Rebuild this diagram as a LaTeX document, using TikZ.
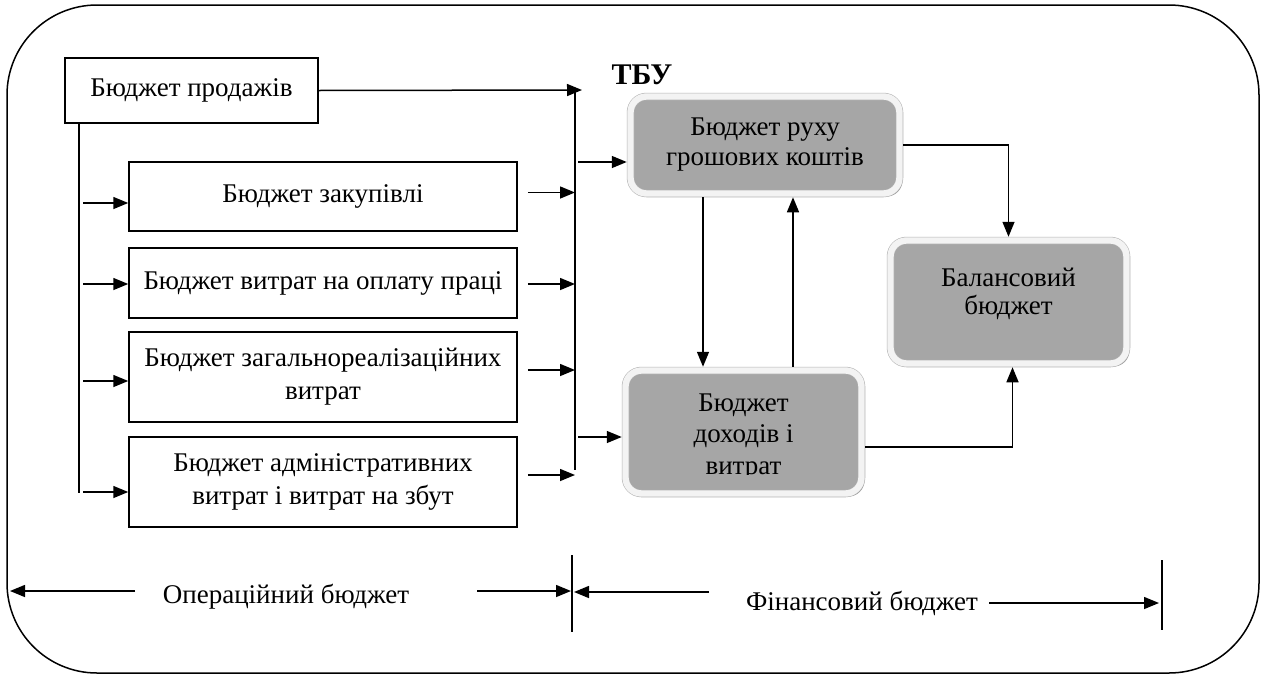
\documentclass[tikz,border=0pt]{standalone}
\usepackage{fontspec}
\setmainfont{Liberation Serif}
\usetikzlibrary{arrows.meta,shadows}
\definecolor{boxgray}{HTML}{A6A6A6}
\definecolor{rimgray}{HTML}{F3F3F3}
\begin{document}
\begin{tikzpicture}[x=1pt,y=-1pt,
  line width=1.5pt,
  arr/.style={-{Triangle[length=15pt,width=12pt]}},
  plainbox/.style={draw, line width=1.5pt, inner sep=0pt, align=center,
    font=\fontsize{27}{33}\selectfont},
  graybox/.style={fill=boxgray, draw=black!30, double=rimgray, double distance=6.4pt,
    line width=0.55pt, rounded corners=16pt, outer sep=3.75pt,
    inner sep=0pt, align=center, font=\fontsize{27}{30}\selectfont,
    drop shadow={shadow xshift=3pt, shadow yshift=-3pt, fill=black!40, opacity=1}},
  lbl/.style={font=\fontsize{27}{30}\selectfont, inner sep=0pt}]
\useasboundingbox (0,0) rectangle (1267,675);

% outer frame
\draw[rounded corners=90pt] (7,5) rectangle (1259,673);

% operational budgets
\node[plainbox, minimum width=253pt, minimum height=65pt] (prod) at (191.5,90.5) {Бюджет продажів};
\node[plainbox, minimum width=388pt, minimum height=69pt] (zak) at (323,196.5) {Бюджет закупівлі};
\node[plainbox, minimum width=388pt, minimum height=70pt] (opl) at (323,283) {Бюджет витрат на оплату праці};
\node[plainbox, minimum width=388pt, minimum height=90pt] (zag) at (323,377) {Бюджет загальнореалізаційних\\витрат};
\node[plainbox, minimum width=388pt, minimum height=90pt] (adm) at (323,482) {Бюджет адміністративних\\витрат і витрат на збут};

% financial budgets
\node[graybox, minimum width=269pt, minimum height=97pt] (rux) at (765,145) {Бюджет руху\\грошових коштів};
\node[graybox, minimum width=236pt, minimum height=123pt] (doh) at (743.5,432) {};
\node[graybox, minimum width=236pt, minimum height=123pt] (bal) at (1008.5,302) {};
\node[lbl, align=center, font=\fontsize{27}{28}\selectfont] (baltext) at (1008.5,294) {Балансовий\\бюджет};
\begin{scope}
  \clip (600,360) rectangle (880,474);
  \node[lbl, align=center, font=\fontsize{27}{31.5}\selectfont] (dohtext) at (743.5,437) {Бюджет\\доходів і\\витрат};
\end{scope}

\node[font=\bfseries\fontsize{30}{32}\selectfont, inner sep=0pt] (tbu) at (642,75) {ТБУ};

% collecting lines
\coordinate (lx) at (79,0);
\coordinate (la) at (83,0);
\coordinate (mx) at (575,0);
\coordinate (mt) at (575,90);
\coordinate (mb) at (575,470);

\draw (prod.south -| lx) -- (79,493);
\draw[arr] ([yshift=-6.5pt]zak.west -| la) -- ([yshift=-6.5pt]zak.west);
\draw[arr] ([yshift=-1pt]opl.west -| la) -- ([yshift=-1pt]opl.west);
\draw[arr] ([yshift=-4pt]zag.west -| la) -- ([yshift=-4pt]zag.west);
\draw[arr] ([yshift=-10pt]adm.west -| la) -- ([yshift=-10pt]adm.west);

\draw (mt) -- (mb);
\draw[arr] (prod.east) -- ([xshift=7pt]mt);
\draw[arr] ([xshift=10pt,yshift=4pt]zak.east) -- ([yshift=4pt]zak.east -| mx);
\draw[arr] ([xshift=10pt,yshift=-1pt]opl.east) -- ([yshift=-1pt]opl.east -| mx);
\draw[arr] ([xshift=10pt,yshift=7pt]zag.east) -- ([yshift=7pt]zag.east -| mx);
\draw[arr] ([xshift=10pt,yshift=7pt]adm.east) -- ([yshift=7pt]adm.east -| mx);

\draw[arr] ([xshift=3pt,yshift=-17pt]rux.west -| mx) -- ([yshift=-17pt]rux.west);
\draw[arr] ([xshift=3pt,yshift=-5pt]doh.west -| mx) -- ([yshift=-5pt]doh.west);

% links between financial budgets
\coordinate (d1) at (703,0);
\coordinate (d2) at (793,0);
\draw[arr] (rux.south -| d1) -- (doh.north -| d1);
\draw[arr] (doh.north -| d2) -- (rux.south -| d2);
\draw[arr] (rux.east) -| (bal.north);
\draw[arr] ([yshift=-15pt]doh.east) -| ([xshift=4pt]bal.south);

% budget ranges along the bottom
\coordinate (opl1) at (135,591);
\coordinate (opl0) at (10,591);
\coordinate (opr1) at (477,591);
\coordinate (opr0) at (571,591);
\coordinate (sepT) at (572,555);
\coordinate (sepB) at (572,632);
\coordinate (fl1) at (709,592);
\coordinate (fl0) at (574,592);
\coordinate (fr1) at (989,603);
\coordinate (fr0) at (1159,603);
\coordinate (endT) at (1162,560);
\coordinate (endB) at (1162,630);
\node[lbl] (optext) at (286,597) {Операційний бюджет};
\node[lbl] (fintext) at (862,603) {Фінансовий бюджет};
\draw[arr] (opl1) -- (opl0);
\draw[arr] (opr1) -- (opr0);
\draw (sepT) -- (sepB);
\draw[arr] (fl1) -- (fl0);
\draw[arr] (fr1) -- (fr0);
\draw (endT) -- (endB);
\end{tikzpicture}
\end{document}
